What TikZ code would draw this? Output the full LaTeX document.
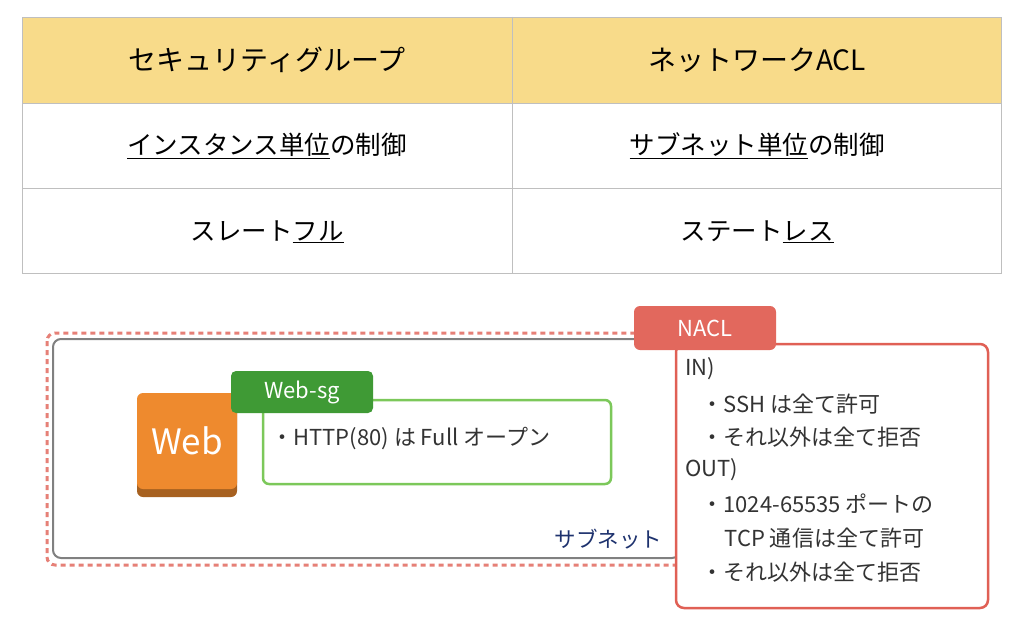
\documentclass[tikz,border=0pt]{standalone}
\usepackage{fontspec}
\setmainfont{Noto Sans CJK JP}
\begin{document}
\begin{tikzpicture}[x=1pt,y=-1pt,
  cell/.style={font=\fontsize{25.5}{28}\selectfont},
  hd/.style={font=\fontsize{28}{30}\selectfont},
  nt/.style={font=\fontsize{22}{24}\selectfont,text=black!80,anchor=west}]
\definecolor{hdy}{HTML}{F8DB8A}\definecolor{gr}{HTML}{7CC85A}\definecolor{dg}{HTML}{3F9A35}
\definecolor{rd}{HTML}{E06055}\definecolor{or}{HTML}{EE8A2E}
\useasboundingbox (0,0) rectangle (1024,626);
\fill[white] (0,0) rectangle (1024,626);
\fill[hdy] (22,17) rectangle (1001,103);
\draw[black!25] (22,17) rectangle (1001,273) (22,103)--(1001,103) (22,188)--(1001,188) (512,17)--(512,273);
\node[hd] (h1) at (267,60) {セキュリティグループ};
\node[hd] (h2) at (757,60) {ネットワークACL};
\node[cell] (a1) at (267,146) {\underline{インスタンス単位}の制御};
\node[cell] (a2) at (757,146) {\underline{サブネット単位}の制御};
\node[cell] (b1) at (267,232) {スレート\underline{フル}};
\node[cell] (b2) at (757,232) {ステート\underline{レス}};
% subnet
\draw[rd!80,line width=3pt,dash pattern=on 5pt off 4pt,rounded corners=8pt] (47,333) rectangle (690,565);
\draw[black!50,line width=2pt,rounded corners=8pt] (53,339) rectangle (680,558);
\node[font=\fontsize{21.5}{24}\selectfont,text={rgb,255:red,30;green,50;blue,110},anchor=east] (sn) at (666,539) {サブネット};
% web
\fill[or!70!black,rounded corners=6pt] (137,398) rectangle (237,497);
\node[fill=or,rounded corners=6pt,minimum width=100pt,minimum height=96pt,text=white,font=\fontsize{35}{38}\selectfont,inner sep=0] (web) at (187,441) {Web};
\draw[gr,line width=2.5pt,rounded corners=6pt] (263,400) rectangle (611,484);
\node[fill=dg,rounded corners=5pt,minimum width=142pt,minimum height=42pt,text=white,font=\fontsize{22}{24}\selectfont] (sg) at (302,392) {Web-sg};
\node[nt] (sgt) at (268,439) {・HTTP(80) は Full オープン};
% nacl
\draw[rd,line width=2.5pt,rounded corners=8pt,fill=white] (676,344) rectangle (988,608);
\node[fill=rd!95!white,rounded corners=6pt,minimum width=142pt,minimum height=44pt,text=white,font=\fontsize{22}{24}\selectfont] (nacl) at (705,328) {NACL};
\node[nt] (l1) at (682,369) {IN)};
\node[nt] (l2) at (698,404) {・SSH は全て許可};
\node[nt] (l3) at (698,437) {・それ以外は全て拒否};
\node[nt] (l4) at (682,470) {OUT)};
\node[nt] (l5) at (698,504) {・1024-65535 ポートの};
\node[nt] (l6) at (721,538) {TCP 通信は全て許可};
\node[nt] (l7) at (698,572) {・それ以外は全て拒否};
\end{tikzpicture}
\end{document}
